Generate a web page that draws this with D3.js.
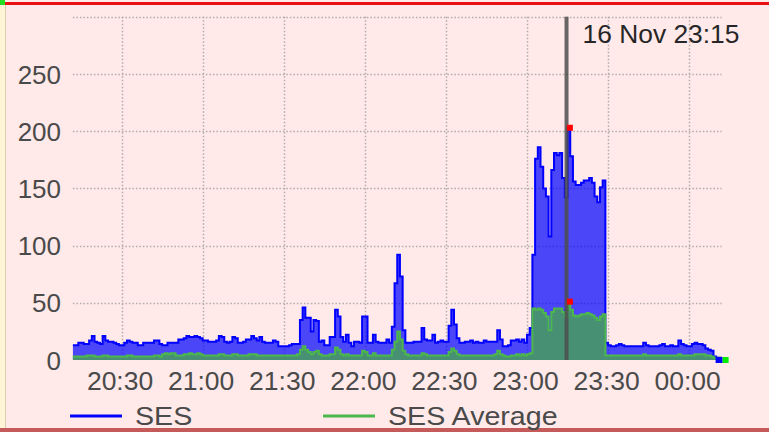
<!DOCTYPE html>
<html><head><meta charset="utf-8">
<script src="https://cdn.jsdelivr.net/npm/d3@7"></script>
<style>html,body{margin:0;padding:0;background:#ffe9e9;}svg{display:block;}</style>
</head><body>
<svg id="chart" width="769" height="432"></svg>
<script>
// ---- data (1-minute samples from 16 Nov 20:12) ----
const startTime = new Date(2024, 10, 16, 20, 12);
const sesValues = [
 13,13,15,15,14,14,17,21,16,15, 14,21,17,16,16,15,14,13,13,15,
 17,16,15,15,13,13,15,15,15,15, 17,17,14,13,13,15,15,15,15,18,
 18,19,21,20,20,21,20,19,17,17, 16,16,16,17,21,20,16,15,16,20,
 19,15,15,16,18,18,21,19,17,20, 16,15,15,15,17,16,12,12,12,12,
 13,14,14,14,35,46,37,37,25,35, 34,16,17,13,13,20,20,44,38,20,
 16,22,15,12,16,16,15,38,38,15, 15,22,16,15,15,15,18,15,29,67,
 92,73,26,15,15,15,16,16,16,28, 18,17,17,22,15,16,17,16,16,30,
 44,31,19,15,15,16,16,17,15,16, 15,15,17,16,16,16,16,26,18,12,
 12,13,17,17,18,16,18,15,22,28, 92,176,186,169,150,143,108,166,181,179,
 181,159,142,203,178,156,153,153,155,157, 157,159,155,143,138,151,157,15,13,12,
 12,13,14,13,12,12,12,12,12,12, 12,15,13,12,12,12,12,13,14,12,
 12,13,12,12,17,14,13,12,12,14, 15,14,14,13,10,9,8,3,2,2
];
const sesAvgValues = [
 3,3,3,3,3,4,4,4,3,3, 3,4,4,3,3,3,3,3,3,3,
 4,4,3,3,3,3,3,3,3,3, 4,4,3,5,6,5,6,6,4,4,
 4,5,5,6,5,5,6,5,4,4, 4,4,4,4,5,5,4,4,4,5,
 5,4,4,4,4,5,5,5,4,4, 4,4,4,4,4,4,4,4,4,4,
 4,4,4,5,9,12,9,7,5,7, 8,5,4,4,4,5,5,11,9,5,
 4,5,4,4,4,4,4,8,7,4, 4,6,4,4,4,4,4,4,9,16,
 25,18,8,5,4,4,4,4,4,6, 5,4,4,4,4,4,4,4,4,7,
 10,8,5,4,4,4,4,4,4,4, 4,4,4,4,4,4,5,8,5,4,
 3,3,4,4,5,4,5,4,5,6, 45,44,45,44,41,38,26,42,45,45,
 45,42,38,51,44,39,38,39,40,40, 41,40,39,37,35,38,40,4,4,4,
 4,4,4,4,4,4,4,4,4,4, 4,5,4,4,4,4,4,4,4,4,
 4,4,4,4,5,4,4,4,4,4, 5,5,5,5,4,4,3,2,2,2
];
const seriesNames = ["SES", "SES Average"];
const yTickValues = [0, 50, 100, 150, 200, 250];
const yGridValues = [50, 100, 150, 200, 250, 300];
const cursorTime = new Date(2024, 10, 16, 23, 15);
const cursorLabel = "16 Nov 23:15";

// ---- build ----
const svg = d3.select("#chart");
const W = 769, H = 432;
const minute = 60000;
const times = d3.range(sesValues.length + 1).map(i => new Date(+startTime + i * minute));
const sesData = times.map((t, i) => ({t, v: sesValues[Math.min(i, sesValues.length - 1)]}));
const avgData = times.map((t, i) => ({t, v: sesAvgValues[Math.min(i, sesAvgValues.length - 1)]}));

const x = d3.scaleTime().domain([times[0], times[times.length - 1]]).range([72.9, 721.6]);
const y = d3.scaleLinear().domain([0, 300]).range([360, 16.8]);

// frame decorations
svg.append("rect").attr("width", W).attr("height", H).attr("fill", "#ffe9e9");
svg.append("rect").attr("x", 0).attr("y", 0).attr("width", 5).attr("height", H).attr("fill", "#fff4d6");
svg.append("line").attr("x1", 5.5).attr("x2", 5.5).attr("y1", 5).attr("y2", H).attr("stroke", "#d9cfb0").attr("stroke-width", 1);
svg.append("rect").attr("x", 0).attr("y", 2).attr("width", W).attr("height", 3).attr("fill", "#e81010");
svg.append("rect").attr("x", 0).attr("y", 0).attr("width", 5).attr("height", 5).attr("fill", "#22dd22");
svg.append("rect").attr("x", 0).attr("y", 428).attr("width", W).attr("height", 4).attr("fill", "#c45a5a");

// grid
const grid = svg.append("g").attr("stroke", "#b3aaaa").attr("stroke-width", 1.5).attr("stroke-dasharray", "1.5,2");
grid.selectAll(".h").data(yGridValues).join("line")
  .attr("x1", x.range()[0]).attr("x2", x.range()[1])
  .attr("y1", d => Math.round(y(d)) + 0.5).attr("y2", d => Math.round(y(d)) + 0.5);
const xTicks = x.ticks(d3.timeMinute.every(30));
grid.selectAll(".v").data(xTicks).join("line")
  .attr("x1", d => Math.round(x(d)) + 0.5).attr("x2", d => Math.round(x(d)) + 0.5)
  .attr("y1", y(300)).attr("y2", y(0));

// areas and lines
const area = d3.area().curve(d3.curveStepAfter).x(d => x(d.t)).y0(y(0)).y1(d => y(d.v));
const line = d3.line().curve(d3.curveStepAfter).x(d => x(d.t)).y(d => y(d.v));

svg.append("path").datum(sesData).attr("d", area).attr("fill", "rgb(0,0,255)").attr("fill-opacity", 0.7);
svg.append("path").datum(sesData).attr("d", line).attr("fill", "none").attr("stroke", "#0000ff").attr("stroke-width", 2);
svg.append("path").datum(avgData).attr("d", area).attr("fill", "rgb(70,170,70)").attr("fill-opacity", 0.75);
svg.append("path").datum(avgData).attr("d", line).attr("fill", "none").attr("stroke", "#4cb84c").attr("stroke-width", 2);

// end markers
const xEnd = x(times[times.length - 1]);
svg.append("rect").attr("x", xEnd - 6).attr("y", y(0) - 3).attr("width", 7).attr("height", 6).attr("fill", "#0000ff");
svg.append("rect").attr("x", xEnd + 1).attr("y", y(0) - 3).attr("width", 6).attr("height", 6).attr("fill", "#00ee00");

// axes labels
const font = "'Liberation Sans', Arial, sans-serif";
const xAxis = d3.axisBottom(x).tickValues(xTicks).tickFormat(d3.timeFormat("%H:%M")).tickSize(0).tickPadding(0);
const gx = svg.append("g").attr("transform", `translate(-2, 372)`).call(xAxis);
gx.select(".domain").remove();
gx.selectAll("text").attr("font-family", font).attr("font-size", 25).attr("fill", "#4a4a4a")
  .attr("dy", "0.71em").attr("transform", "scale(1.06,1)");

const yAxis = d3.axisLeft(y).tickValues(yTickValues).tickSize(0).tickPadding(0);
const gy = svg.append("g").attr("transform", `translate(61, 0)`).call(yAxis);
gy.select(".domain").remove();
gy.selectAll("text").attr("font-family", font).attr("font-size", 25).attr("fill", "#4a4a4a")
  .attr("dy", "0.36em").attr("transform", "scale(1.04,1)");

// cursor
const cx = x(cursorTime);
svg.append("line").attr("x1", cx - 1).attr("x2", cx - 1).attr("y1", y(300)).attr("y2", y(0))
  .attr("stroke", "#4d4d4d").attr("stroke-opacity", 0.85).attr("stroke-width", 4);
const ci = Math.round((cursorTime - startTime) / minute);
const cmx = (x(times[ci]) + x(times[ci + 1])) / 2 + 1;
[sesValues[ci], sesAvgValues[ci]].forEach(v => {
  svg.append("rect").attr("x", cmx - 3).attr("y", y(v) - 3).attr("width", 6).attr("height", 6).attr("fill", "#ff0000");
});
svg.append("text").attr("transform", `translate(${cx + 15},43) scale(1.055,1)`)
  .attr("font-family", font).attr("font-size", 25).attr("fill", "#262626").text(cursorLabel);

// legend
const legendColors = ["#0000ff", "#4cb84c"];
const legendX = [70, 323];
seriesNames.forEach((name, i) => {
  const g = svg.append("g").attr("transform", `translate(${legendX[i]}, 0)`);
  g.append("line").attr("x1", 0).attr("x2", 52).attr("y1", 416).attr("y2", 416)
    .attr("stroke", legendColors[i]).attr("stroke-width", 3);
  g.append("text").attr("transform", "translate(65,425) scale(1.1,1)")
    .attr("font-family", font).attr("font-size", 26).attr("fill", "#4a4a4a").text(name);
});
</script>
</body></html>
